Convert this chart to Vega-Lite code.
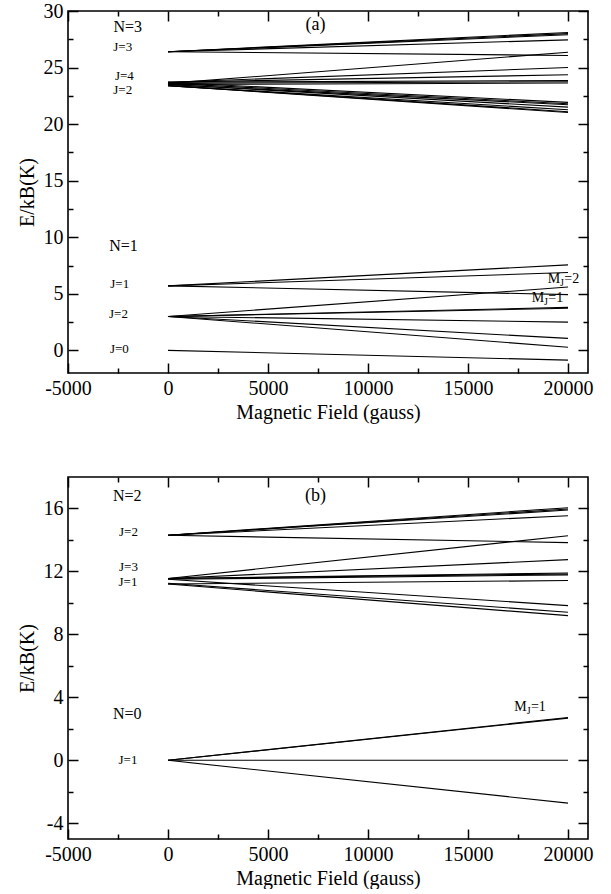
{
  "$schema": "https://vega.github.io/schema/vega-lite/v6.json",
  "padding": {"left": 16, "top": 0, "right": 0, "bottom": 0},
  "spacing": 52,
  "config": {
    "font": "Liberation Serif",
    "view": {"stroke": "black", "strokeWidth": 1.6},
    "axis": {"grid": false, "domain": false, "tickColor": "black", "tickWidth": 1.5, "labelColor": "black", "titleColor": "black", "labelFont": "Liberation Serif", "titleFont": "Liberation Serif", "labelFontSize": 20, "titleFontSize": 20, "titleFontWeight": "normal", "labelOverlap": false, "labelFlush": false, "labelBound": false}
  },
  "datasets": {
    "a_lines": [
      {"k": "a01", "B": 0, "E": 26.4}, {"k": "a01", "B": 20000, "E": 28.1},
      {"k": "a02", "B": 0, "E": 26.4}, {"k": "a02", "B": 20000, "E": 28.0},
      {"k": "a03", "B": 0, "E": 26.4}, {"k": "a03", "B": 20000, "E": 27.9},
      {"k": "a04", "B": 0, "E": 26.4}, {"k": "a04", "B": 20000, "E": 27.45},
      {"k": "a05", "B": 0, "E": 26.4}, {"k": "a05", "B": 20000, "E": 26.07},
      {"k": "a06", "B": 0, "E": 23.6}, {"k": "a06", "B": 20000, "E": 26.36},
      {"k": "a07", "B": 0, "E": 23.7}, {"k": "a07", "B": 20000, "E": 25.0},
      {"k": "a08", "B": 0, "E": 23.7}, {"k": "a08", "B": 20000, "E": 24.36},
      {"k": "a09", "B": 0, "E": 23.7}, {"k": "a09", "B": 20000, "E": 23.85},
      {"k": "a10", "B": 0, "E": 23.6}, {"k": "a10", "B": 20000, "E": 23.75},
      {"k": "a11", "B": 0, "E": 23.5}, {"k": "a11", "B": 20000, "E": 23.63},
      {"k": "a12", "B": 0, "E": 23.7}, {"k": "a12", "B": 20000, "E": 21.92},
      {"k": "a13", "B": 0, "E": 23.6}, {"k": "a13", "B": 20000, "E": 21.8},
      {"k": "a14", "B": 0, "E": 23.5}, {"k": "a14", "B": 20000, "E": 21.71},
      {"k": "a15", "B": 0, "E": 23.5}, {"k": "a15", "B": 20000, "E": 21.5},
      {"k": "a16", "B": 0, "E": 23.4}, {"k": "a16", "B": 20000, "E": 21.27},
      {"k": "a17", "B": 0, "E": 23.4}, {"k": "a17", "B": 20000, "E": 21.1},
      {"k": "a18", "B": 0, "E": 23.4}, {"k": "a18", "B": 20000, "E": 21.03},
      {"k": "a19", "B": 0, "E": 5.7}, {"k": "a19", "B": 20000, "E": 7.56},
      {"k": "a20", "B": 0, "E": 5.7}, {"k": "a20", "B": 20000, "E": 6.88},
      {"k": "a21", "B": 0, "E": 5.7}, {"k": "a21", "B": 20000, "E": 4.93},
      {"k": "a22", "B": 0, "E": 3.0}, {"k": "a22", "B": 20000, "E": 5.6},
      {"k": "a23", "B": 0, "E": 3.0}, {"k": "a23", "B": 20000, "E": 3.8},
      {"k": "a24", "B": 0, "E": 3.0}, {"k": "a24", "B": 20000, "E": 3.72},
      {"k": "a25", "B": 0, "E": 3.0}, {"k": "a25", "B": 20000, "E": 2.5},
      {"k": "a26", "B": 0, "E": 3.0}, {"k": "a26", "B": 20000, "E": 1.06},
      {"k": "a27", "B": 0, "E": 3.0}, {"k": "a27", "B": 20000, "E": 0.28},
      {"k": "a28", "B": 0, "E": 0.0}, {"k": "a28", "B": 20000, "E": -0.86}
    ],
    "b_lines": [
      {"k": "b01", "B": 0, "E": 14.3}, {"k": "b01", "B": 20000, "E": 16.05},
      {"k": "b02", "B": 0, "E": 14.3}, {"k": "b02", "B": 20000, "E": 15.97},
      {"k": "b03", "B": 0, "E": 14.3}, {"k": "b03", "B": 20000, "E": 15.9},
      {"k": "b04", "B": 0, "E": 14.3}, {"k": "b04", "B": 20000, "E": 15.54},
      {"k": "b05", "B": 0, "E": 14.3}, {"k": "b05", "B": 20000, "E": 13.83},
      {"k": "b06", "B": 0, "E": 11.55}, {"k": "b06", "B": 20000, "E": 14.27},
      {"k": "b07", "B": 0, "E": 11.55}, {"k": "b07", "B": 20000, "E": 12.75},
      {"k": "b08", "B": 0, "E": 11.55}, {"k": "b08", "B": 20000, "E": 11.9},
      {"k": "b09", "B": 0, "E": 11.55}, {"k": "b09", "B": 20000, "E": 11.84},
      {"k": "b10", "B": 0, "E": 11.5}, {"k": "b10", "B": 20000, "E": 11.78},
      {"k": "b11", "B": 0, "E": 11.2}, {"k": "b11", "B": 20000, "E": 11.42},
      {"k": "b12", "B": 0, "E": 11.5}, {"k": "b12", "B": 20000, "E": 9.83},
      {"k": "b13", "B": 0, "E": 11.25}, {"k": "b13", "B": 20000, "E": 9.41},
      {"k": "b14", "B": 0, "E": 11.2}, {"k": "b14", "B": 20000, "E": 9.19},
      {"k": "b15", "B": 0, "E": 0.0}, {"k": "b15", "B": 20000, "E": 2.72},
      {"k": "b16", "B": 0, "E": 0.0}, {"k": "b16", "B": 20000, "E": 2.68},
      {"k": "b17", "B": 0, "E": 0.0}, {"k": "b17", "B": 20000, "E": 0.0},
      {"k": "b18", "B": 0, "E": 0.0}, {"k": "b18", "B": 20000, "E": -2.72}
    ],
    "a_big": [
      {"t": "N=3", "B": -2015, "E": 28.6},
      {"t": "N=1", "B": -2225, "E": 9.2}
    ],
    "a_panel": [{"t": "(a)", "B": 7375, "E": 28.8}],
    "a_small": [
      {"t": "J=3", "B": -2265, "E": 26.86},
      {"t": "J=4", "B": -2180, "E": 24.27},
      {"t": "J=2", "B": -2265, "E": 23.04},
      {"t": "J=1", "B": -2415, "E": 5.83},
      {"t": "J=2", "B": -2475, "E": 3.18},
      {"t": "J=0", "B": -2430, "E": 0.09}
    ],
    "a_m": [
      {"t": "M", "s": "J", "r": "=2", "B": 18985, "E": 6.35},
      {"t": "M", "s": "J", "r": "=1", "B": 18185, "E": 4.6}
    ],
    "b_big": [
      {"t": "N=2", "B": -2040, "E": 16.81},
      {"t": "N=0", "B": -2040, "E": 2.95}
    ],
    "b_panel": [{"t": "(b)", "B": 7375, "E": 16.81}],
    "b_small": [
      {"t": "J=2", "B": -1975, "E": 14.49},
      {"t": "J=3", "B": -1975, "E": 12.27},
      {"t": "J=1", "B": -2000, "E": 11.31},
      {"t": "J=1", "B": -2000, "E": 0.0}
    ],
    "b_m": [
      {"t": "M", "s": "J", "r": "=1", "B": 17315, "E": 3.38}
    ]
  },
  "vconcat": [
    {
      "width": 520,
      "height": 362,
      "resolve": {"axis": {"x": "independent", "y": "independent"}},
      "layer": [
        {
          "data": {"name": "a_lines"},
          "mark": {"type": "line", "color": "black", "strokeWidth": 1.1},
          "encoding": {
            "x": {"field": "B", "type": "quantitative", "scale": {"domain": [-5000, 21000], "nice": false, "zero": false},
              "axis": {"orient": "bottom", "values": [-5000, 0, 5000, 10000, 15000, 20000], "tickSize": -10, "labelPadding": 15, "labelExpr": "datum.value + ''", "title": "Magnetic Field (gauss)", "titlePadding": 4}},
            "y": {"field": "E", "type": "quantitative", "scale": {"domain": [-2, 30], "nice": false, "zero": false},
              "axis": {"orient": "left", "values": [0, 5, 10, 15, 20, 25, 30], "tickSize": -10, "labelPadding": 15, "labelExpr": "datum.value + ''", "title": "E/kB(K)", "titlePadding": 6}},
            "detail": {"field": "k", "type": "nominal"}
          }
        },
        {
          "data": {"name": "a_lines"},
          "mark": {"type": "line", "opacity": 0},
          "encoding": {
            "x": {"field": "B", "type": "quantitative", "axis": {"orient": "bottom", "values": [-2500, 2500, 7500, 12500, 17500], "tickSize": -5, "labels": false, "title": null}},
            "y": {"field": "E", "type": "quantitative", "axis": {"orient": "left", "values": [2.5, 7.5, 12.5, 17.5, 22.5, 27.5], "tickSize": -5, "labels": false, "title": null}},
            "detail": {"field": "k", "type": "nominal"}
          }
        },
        {
          "data": {"name": "a_lines"},
          "mark": {"type": "line", "opacity": 0},
          "encoding": {
            "x": {"field": "B", "type": "quantitative", "axis": {"orient": "top", "values": [-5000, 0, 5000, 10000, 15000, 20000], "tickSize": -10, "labels": false, "title": null}},
            "y": {"field": "E", "type": "quantitative", "axis": {"orient": "right", "values": [0, 5, 10, 15, 20, 25, 30], "tickSize": -10, "labels": false, "title": null}},
            "detail": {"field": "k", "type": "nominal"}
          }
        },
        {
          "data": {"name": "a_lines"},
          "mark": {"type": "line", "opacity": 0},
          "encoding": {
            "x": {"field": "B", "type": "quantitative", "axis": {"orient": "top", "values": [-2500, 2500, 7500, 12500, 17500], "tickSize": -5, "labels": false, "title": null}},
            "y": {"field": "E", "type": "quantitative", "axis": {"orient": "right", "values": [2.5, 7.5, 12.5, 17.5, 22.5, 27.5], "tickSize": -5, "labels": false, "title": null}},
            "detail": {"field": "k", "type": "nominal"}
          }
        },
        {
          "data": {"name": "a_big"},
          "mark": {"type": "text", "fontSize": 16, "align": "center", "baseline": "middle", "color": "black"},
          "encoding": {"x": {"field": "B", "type": "quantitative", "axis": null}, "y": {"field": "E", "type": "quantitative", "axis": null}, "text": {"field": "t"}}
        },
        {
          "data": {"name": "a_panel"},
          "mark": {"type": "text", "fontSize": 18, "align": "center", "baseline": "middle", "color": "black"},
          "encoding": {"x": {"field": "B", "type": "quantitative", "axis": null}, "y": {"field": "E", "type": "quantitative", "axis": null}, "text": {"field": "t"}}
        },
        {
          "data": {"name": "a_small"},
          "mark": {"type": "text", "fontSize": 13, "align": "center", "baseline": "middle", "color": "black"},
          "encoding": {"x": {"field": "B", "type": "quantitative", "axis": null}, "y": {"field": "E", "type": "quantitative", "axis": null}, "text": {"field": "t"}}
        },
        {
          "data": {"name": "a_m"},
          "mark": {"type": "text", "fontSize": 14, "align": "left", "baseline": "middle", "color": "black"},
          "encoding": {"x": {"field": "B", "type": "quantitative", "axis": null}, "y": {"field": "E", "type": "quantitative", "axis": null}, "text": {"field": "t"}}
        },
        {
          "data": {"name": "a_m"},
          "mark": {"type": "text", "fontSize": 10, "align": "left", "baseline": "middle", "color": "black", "dx": 12.4, "dy": 4},
          "encoding": {"x": {"field": "B", "type": "quantitative", "axis": null}, "y": {"field": "E", "type": "quantitative", "axis": null}, "text": {"field": "s"}}
        },
        {
          "data": {"name": "a_m"},
          "mark": {"type": "text", "fontSize": 14, "align": "left", "baseline": "middle", "color": "black", "dx": 16.6},
          "encoding": {"x": {"field": "B", "type": "quantitative", "axis": null}, "y": {"field": "E", "type": "quantitative", "axis": null}, "text": {"field": "r"}}
        }
      ]
    },
    {
      "width": 520,
      "height": 362,
      "resolve": {"axis": {"x": "independent", "y": "independent"}},
      "layer": [
        {
          "data": {"name": "b_lines"},
          "mark": {"type": "line", "color": "black", "strokeWidth": 1.1},
          "encoding": {
            "x": {"field": "B", "type": "quantitative", "scale": {"domain": [-5000, 21000], "nice": false, "zero": false},
              "axis": {"orient": "bottom", "values": [-5000, 0, 5000, 10000, 15000, 20000], "tickSize": -10, "labelPadding": 15, "labelExpr": "datum.value + ''", "title": "Magnetic Field (gauss)", "titlePadding": 4}},
            "y": {"field": "E", "type": "quantitative", "scale": {"domain": [-5, 18], "nice": false, "zero": false},
              "axis": {"orient": "left", "values": [-4, 0, 4, 8, 12, 16], "tickSize": -10, "labelPadding": 15, "labelExpr": "datum.value + ''", "title": "E/kB(K)", "titlePadding": 6}},
            "detail": {"field": "k", "type": "nominal"}
          }
        },
        {
          "data": {"name": "b_lines"},
          "mark": {"type": "line", "opacity": 0},
          "encoding": {
            "x": {"field": "B", "type": "quantitative", "axis": {"orient": "bottom", "values": [-2500, 2500, 7500, 12500, 17500], "tickSize": -5, "labels": false, "title": null}},
            "y": {"field": "E", "type": "quantitative", "axis": {"orient": "left", "values": [-2, 2, 6, 10, 14], "tickSize": -5, "labels": false, "title": null}},
            "detail": {"field": "k", "type": "nominal"}
          }
        },
        {
          "data": {"name": "b_lines"},
          "mark": {"type": "line", "opacity": 0},
          "encoding": {
            "x": {"field": "B", "type": "quantitative", "axis": {"orient": "top", "values": [-5000, 0, 5000, 10000, 15000, 20000], "tickSize": -10, "labels": false, "title": null}},
            "y": {"field": "E", "type": "quantitative", "axis": {"orient": "right", "values": [-4, 0, 4, 8, 12, 16], "tickSize": -10, "labels": false, "title": null}},
            "detail": {"field": "k", "type": "nominal"}
          }
        },
        {
          "data": {"name": "b_lines"},
          "mark": {"type": "line", "opacity": 0},
          "encoding": {
            "x": {"field": "B", "type": "quantitative", "axis": {"orient": "top", "values": [-2500, 2500, 7500, 12500, 17500], "tickSize": -5, "labels": false, "title": null}},
            "y": {"field": "E", "type": "quantitative", "axis": {"orient": "right", "values": [-2, 2, 6, 10, 14], "tickSize": -5, "labels": false, "title": null}},
            "detail": {"field": "k", "type": "nominal"}
          }
        },
        {
          "data": {"name": "b_big"},
          "mark": {"type": "text", "fontSize": 16, "align": "center", "baseline": "middle", "color": "black"},
          "encoding": {"x": {"field": "B", "type": "quantitative", "axis": null}, "y": {"field": "E", "type": "quantitative", "axis": null}, "text": {"field": "t"}}
        },
        {
          "data": {"name": "b_panel"},
          "mark": {"type": "text", "fontSize": 18, "align": "center", "baseline": "middle", "color": "black"},
          "encoding": {"x": {"field": "B", "type": "quantitative", "axis": null}, "y": {"field": "E", "type": "quantitative", "axis": null}, "text": {"field": "t"}}
        },
        {
          "data": {"name": "b_small"},
          "mark": {"type": "text", "fontSize": 13, "align": "center", "baseline": "middle", "color": "black"},
          "encoding": {"x": {"field": "B", "type": "quantitative", "axis": null}, "y": {"field": "E", "type": "quantitative", "axis": null}, "text": {"field": "t"}}
        },
        {
          "data": {"name": "b_m"},
          "mark": {"type": "text", "fontSize": 14, "align": "left", "baseline": "middle", "color": "black"},
          "encoding": {"x": {"field": "B", "type": "quantitative", "axis": null}, "y": {"field": "E", "type": "quantitative", "axis": null}, "text": {"field": "t"}}
        },
        {
          "data": {"name": "b_m"},
          "mark": {"type": "text", "fontSize": 10, "align": "left", "baseline": "middle", "color": "black", "dx": 12.4, "dy": 4},
          "encoding": {"x": {"field": "B", "type": "quantitative", "axis": null}, "y": {"field": "E", "type": "quantitative", "axis": null}, "text": {"field": "s"}}
        },
        {
          "data": {"name": "b_m"},
          "mark": {"type": "text", "fontSize": 14, "align": "left", "baseline": "middle", "color": "black", "dx": 16.6},
          "encoding": {"x": {"field": "B", "type": "quantitative", "axis": null}, "y": {"field": "E", "type": "quantitative", "axis": null}, "text": {"field": "r"}}
        }
      ]
    }
  ]
}
